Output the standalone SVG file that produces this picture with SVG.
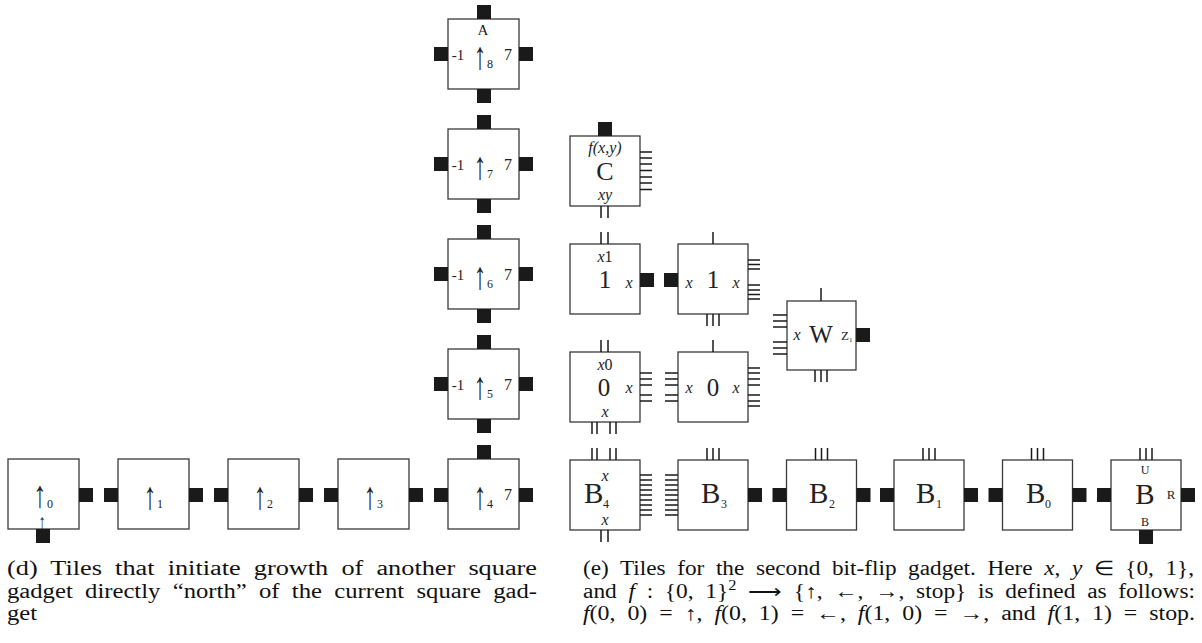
<svg xmlns="http://www.w3.org/2000/svg" width="1202" height="643" viewBox="0 0 1202 643">
<style>
.tile{fill:#fff;stroke:#3a3a3a;stroke-width:1.3}
.tab{fill:#1a1a1a}
.ln{stroke:#1a1a1a;stroke-width:1.5;fill:none}
text{font-family:"Liberation Serif","Times New Roman",serif;fill:#222}
.i{font-style:italic}
.s15{font-size:15px}
.s16{font-size:16px}
.sub{font-size:12px}
.arr{font-size:26px;text-anchor:middle}
.big{font-size:29px}
.cap{font-size:20px;fill:#111;word-spacing:5px}
.m{text-anchor:middle}
</style>
<rect width="1202" height="643" fill="#fff"/>
<g id="connectors"/>

<!-- column of tiles (d) -->
<g id="tile-A">
<rect class="tile" x="448" y="19" width="71" height="70"/>
<rect class="tab" x="477" y="5" width="14" height="14"/>
<rect class="tab" x="477" y="89" width="14" height="14"/>
<rect class="tab" x="434" y="47" width="14" height="14"/>
<rect class="tab" x="519" y="47" width="14" height="14"/>
<text class="s15 m" x="483" y="35">A</text>
<text class="s15 m" x="458" y="60">-1</text>
<text class="arr" transform="translate(480,69) scale(1,1.5)">↑</text>
<text class="sub" x="487" y="68">8</text>
<text class="s16 m" x="508" y="60">7</text>
</g>
<g id="tile-up7">
<rect class="tile" x="448" y="129" width="71" height="70"/>
<rect class="tab" x="477" y="115" width="14" height="14"/>
<rect class="tab" x="477" y="199" width="14" height="14"/>
<rect class="tab" x="434" y="157" width="14" height="14"/>
<rect class="tab" x="519" y="157" width="14" height="14"/>
<text class="s15 m" x="458" y="170">-1</text>
<text class="arr" transform="translate(480,179) scale(1,1.5)">↑</text>
<text class="sub" x="487" y="178">7</text>
<text class="s16 m" x="508" y="170">7</text>
</g>
<g id="tile-up6">
<rect class="tile" x="448" y="239" width="71" height="70"/>
<rect class="tab" x="477" y="225" width="14" height="14"/>
<rect class="tab" x="477" y="309" width="14" height="14"/>
<rect class="tab" x="434" y="267" width="14" height="14"/>
<rect class="tab" x="519" y="267" width="14" height="14"/>
<text class="s15 m" x="458" y="280">-1</text>
<text class="arr" transform="translate(480,289) scale(1,1.5)">↑</text>
<text class="sub" x="487" y="288">6</text>
<text class="s16 m" x="508" y="280">7</text>
</g>
<g id="tile-up5">
<rect class="tile" x="448" y="349" width="71" height="70"/>
<rect class="tab" x="477" y="335" width="14" height="14"/>
<rect class="tab" x="477" y="419" width="14" height="14"/>
<rect class="tab" x="434" y="377" width="14" height="14"/>
<rect class="tab" x="519" y="377" width="14" height="14"/>
<text class="s15 m" x="458" y="390">-1</text>
<text class="arr" transform="translate(480,399) scale(1,1.5)">↑</text>
<text class="sub" x="487" y="398">5</text>
<text class="s16 m" x="508" y="390">7</text>
</g>
<g id="tile-up4">
<rect class="tile" x="448" y="459" width="71" height="70"/>
<rect class="tab" x="477" y="445" width="14" height="14"/>
<rect class="tab" x="434" y="488" width="14" height="14"/>
<rect class="tab" x="519" y="488" width="14" height="14"/>
<text class="arr" transform="translate(480,509) scale(1,1.5)">↑</text>
<text class="sub" x="487" y="508">4</text>
<text class="s16 m" x="508" y="500">7</text>
</g>

<!-- bottom row (d) -->
<g id="tile-up0">
<rect class="tile" x="8" y="459" width="71" height="70"/>
<rect class="tab" x="79" y="488" width="14" height="14"/>
<rect class="tab" x="36" y="529" width="14" height="14"/>
<text class="arr" transform="translate(40,507) scale(1,1.45)">↑</text>
<text class="sub" x="47" y="508">0</text>
<text class="m" style="font-size:15px" transform="translate(42,529) scale(1,1.4)">↑</text>
</g>
<g id="tile-up1">
<rect class="tile" x="118" y="459" width="71" height="70"/>
<rect class="tab" x="104" y="488" width="14" height="14"/>
<rect class="tab" x="189" y="488" width="14" height="14"/>
<text class="arr" transform="translate(150,509) scale(1,1.5)">↑</text>
<text class="sub" x="157" y="508">1</text>
</g>
<g id="tile-up2">
<rect class="tile" x="228" y="459" width="71" height="70"/>
<rect class="tab" x="214" y="488" width="14" height="14"/>
<rect class="tab" x="299" y="488" width="14" height="14"/>
<text class="arr" transform="translate(260,509) scale(1,1.5)">↑</text>
<text class="sub" x="267" y="508">2</text>
</g>
<g id="tile-up3">
<rect class="tile" x="338" y="459" width="71" height="70"/>
<rect class="tab" x="324" y="488" width="14" height="14"/>
<rect class="tab" x="409" y="488" width="14" height="14"/>
<text class="arr" transform="translate(370,509) scale(1,1.5)">↑</text>
<text class="sub" x="377" y="508">3</text>
</g>

<!-- (e) tiles -->
<g id="tile-C">
<rect class="tile" x="570" y="136" width="70" height="70"/>
<rect class="tab" x="598" y="122" width="14" height="14"/>
<path class="ln" d="M640 152h12M640 158h12M640 164h12M640 170.5h12M640 177h12M640 183h12M640 189.5h12"/>
<path class="ln" d="M601 206v12M608 206v12"/>
<text class="s16 i m" x="605" y="153">f(x,y)</text>
<text class="m" style="font-size:26px" x="605" y="180">C</text>
<text class="s16 i m" x="605" y="200">xy</text>
</g>
<g id="tile-1a">
<rect class="tile" x="570" y="244" width="70" height="70"/>
<path class="ln" d="M601 232v12M608 232v12"/>
<rect class="tab" x="640" y="273" width="14" height="14"/>
<text class="s16 m" x="605" y="262"><tspan class="i">x</tspan>1</text>
<text class="m" style="font-size:25px" x="605" y="288">1</text>
<text class="s16 i m" x="629" y="288">x</text>
</g>
<g id="tile-1b">
<rect class="tile" x="678" y="244" width="70" height="70"/>
<rect class="tab" x="664" y="273" width="14" height="14"/>
<path class="ln" d="M713 232v12"/>
<path class="ln" d="M748 260h12M748 264.5h12M748 269h12M748 285h12M748 290h12M748 294.5h12M748 299h12"/>
<path class="ln" d="M707 314v12M713 314v12M719 314v12"/>
<text class="s16 i m" x="689" y="288">x</text>
<text class="m" style="font-size:25px" x="713" y="288">1</text>
<text class="s16 i m" x="736" y="288">x</text>
</g>
<g id="tile-0a">
<rect class="tile" x="570" y="352" width="70" height="70"/>
<path class="ln" d="M601 340v12M608 340v12"/>
<path class="ln" d="M640 373h12M640 379h12M640 385h12M640 395h12M640 401h12"/>
<path class="ln" d="M592 422v12M597 422v12M610 422v12M616 422v12"/>
<text class="s16 m" x="605" y="370"><tspan class="i">x</tspan>0</text>
<text class="m" style="font-size:25px" x="604" y="396">0</text>
<text class="s16 i m" x="629" y="393">x</text>
<text class="s16 i m" x="605" y="417">x</text>
</g>
<g id="tile-0b">
<rect class="tile" x="678" y="352" width="70" height="70"/>
<path class="ln" d="M713 340v12"/>
<path class="ln" d="M665 373h13M665 379h13M665 385h13M665 395h13M665 401h13"/>
<path class="ln" d="M748 368h12M748 373h12M748 379h12M748 385h12M748 395h12M748 401h12M748 406h12"/>
<text class="s16 i m" x="689" y="393">x</text>
<text class="m" style="font-size:25px" x="713" y="396">0</text>
<text class="s16 i m" x="736" y="393">x</text>
</g>
<g id="tile-W">
<rect class="tile" x="787" y="301" width="69" height="69"/>
<path class="ln" d="M821 288v13"/>
<path class="ln" d="M773 315h14M773 321h14M773 327h14M773 342h14M773 348h14M773 354h14"/>
<path class="ln" d="M815 370v12M821 370v12M827 370v12"/>
<rect class="tab" x="856" y="328" width="14" height="14"/>
<text class="s16 i m" x="797" y="340">x</text>
<text class="m" style="font-size:25px" x="821" y="343">W</text>
<text style="font-size:13px" x="841" y="340">Z</text>
<text style="font-size:7px" x="849" y="342">1</text>
</g>

<!-- B row -->
<g id="tile-B4">
<rect class="tile" x="570" y="460" width="70" height="70"/>
<path class="ln" d="M592 448v12M597 448v12M610 448v12M616 448v12"/>
<path class="ln" d="M640 475h12M640 480h12M640 485h12M640 490h12M640 495h12M640 500h12M640 505h12M640 510h12M640 515h12"/>
<path class="ln" d="M601 530v12M608 530v12"/>
<text class="s16 i m" x="605" y="481">x</text>
<text class="big" x="584" y="503">B</text>
<text class="sub" x="603" y="508">4</text>
<text class="s16 i m" x="605" y="525">x</text>
</g>
<g id="tile-B3">
<rect class="tile" x="678" y="460" width="70" height="70"/>
<path class="ln" d="M665 475h13M665 480h13M665 485h13M665 490h13M665 495h13M665 500h13M665 505h13M665 510h13M665 515h13"/>
<path class="ln" d="M707 448v12M713 448v12M719 448v12"/>
<rect class="tab" x="748" y="488" width="14" height="14"/>
<text class="big" x="701" y="503">B</text>
<text class="sub" x="721" y="508">3</text>
</g>
<g id="tile-B2">
<rect class="tile" x="786.5" y="460" width="70" height="70"/>
<rect class="tab" x="772.5" y="488" width="14" height="14"/>
<path class="ln" d="M815.5 448v12M821.5 448v12M827.5 448v12"/>
<rect class="tab" x="856.5" y="488" width="14" height="14"/>
<text class="big" x="809" y="503">B</text>
<text class="sub" x="829" y="508">2</text>
</g>
<g id="tile-B1">
<rect class="tile" x="894" y="460" width="70" height="70"/>
<rect class="tab" x="880" y="488" width="14" height="14"/>
<path class="ln" d="M923 448v12M929 448v12M935 448v12"/>
<rect class="tab" x="964" y="488" width="14" height="14"/>
<text class="big" x="916" y="503">B</text>
<text class="sub" x="936" y="508">1</text>
</g>
<g id="tile-B0">
<rect class="tile" x="1002.5" y="460" width="70" height="70"/>
<rect class="tab" x="988.5" y="488" width="14" height="14"/>
<path class="ln" d="M1031.5 448v12M1037.5 448v12M1043.5 448v12"/>
<rect class="tab" x="1072.5" y="488" width="14" height="14"/>
<text class="big" x="1026" y="503">B</text>
<text class="sub" x="1045" y="508">0</text>
</g>
<g id="tile-B">
<rect class="tile" x="1111" y="460" width="70" height="70"/>
<rect class="tab" x="1097" y="488" width="14" height="14"/>
<path class="ln" d="M1140 448v12M1146 448v12M1152 448v12"/>
<rect class="tab" x="1181" y="488" width="14" height="14"/>
<rect class="tab" x="1139" y="530" width="14" height="14"/>
<text style="font-size:12px" class="m" x="1145" y="474">U</text>
<text class="big m" x="1145" y="504">B</text>
<text style="font-size:13px" class="m" x="1171" y="499">R</text>
<text style="font-size:12px" class="m" x="1145" y="526">B</text>
</g>

<!-- captions -->
<g id="caption-d">
<text class="cap" x="7" y="575" textLength="530" lengthAdjust="spacingAndGlyphs">(d) Tiles that initiate growth of another square</text>
<text class="cap" x="7" y="597.5" textLength="530" lengthAdjust="spacingAndGlyphs">gadget directly “north” of the current square gad-</text>
<text class="cap" x="7" y="620" textLength="30" lengthAdjust="spacingAndGlyphs">get</text>
</g>
<g id="caption-e">
<text class="cap" x="583" y="575" textLength="611" lengthAdjust="spacingAndGlyphs">(e) Tiles for the second bit-flip gadget. Here <tspan class="i">x</tspan>, <tspan class="i">y</tspan> ∈ {0, 1},</text>
<text class="cap" x="583" y="597.5" textLength="612" lengthAdjust="spacingAndGlyphs">and <tspan class="i">f</tspan> : {0, 1}<tspan dy="-8" style="font-size:14px">2</tspan><tspan dy="8"> ⟶ {↑, ←, →, stop} is defined as follows:</tspan></text>
<text class="cap" x="583" y="620" textLength="612" lengthAdjust="spacingAndGlyphs"><tspan class="i">f</tspan>(0, 0) = ↑, <tspan class="i">f</tspan>(0, 1) = ←, <tspan class="i">f</tspan>(1, 0) = →, and <tspan class="i">f</tspan>(1, 1) = stop.</text>
</g>
</svg>
